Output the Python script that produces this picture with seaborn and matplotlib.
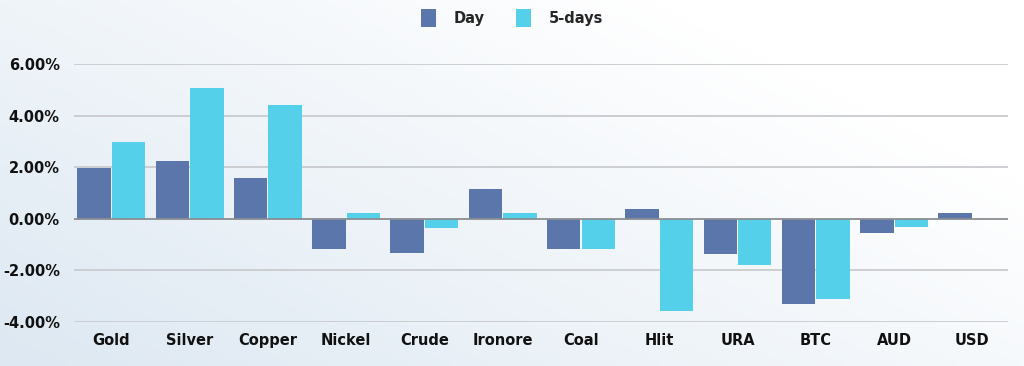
import pandas as pd
import numpy as np
import matplotlib.pyplot as plt
import seaborn as sns

categories = ["Gold", "Silver", "Copper", "Nickel", "Crude", "Ironore",
              "Coal", "Hlit", "URA", "BTC", "AUD", "USD"]
day = [1.97, 2.26, 1.60, -1.15, -1.32, 1.17, -1.15, 0.37, -1.38, -3.31, -0.54, 0.23]
five_days = [2.97, 5.08, 4.42, 0.22, -0.36, 0.22, -1.15, -3.58, -1.80, -3.10, -0.32, 0.0]
yticks = [-4, -2, 0, 2, 4, 6]

df = pd.DataFrame({"cat": categories * 2,
                   "value": day + five_days,
                   "series": ["Day"] * len(categories) + ["5-days"] * len(categories)})

sns.set_style("white")
plt.rcParams["font.family"] = ["DejaVu Sans"]

fig = plt.figure(figsize=(10.24, 3.66), dpi=100)

# soft background gradient, bluish at lower left, white at upper right
bg = fig.add_axes([0, 0, 1, 1], zorder=-10)
gx, gy = np.meshgrid(np.linspace(0, 1, 200), np.linspace(0, 1, 80))
g = np.clip(0.7 * (1 - gx) + 0.5 * gy - 0.25, 0, 1)
bg.imshow(g, cmap=sns.blend_palette(["#ffffff", "#dde8f2"], as_cmap=True),
          aspect="auto", extent=[0, 1, 0, 1], origin="upper")
bg.axis("off")

ax = fig.add_axes([0.072, 0.12, 0.912, 0.705])
ax.patch.set_alpha(0)
sns.barplot(data=df, x="cat", y="value", hue="series",
            palette={"Day": "#5a76ab", "5-days": "#55d0eb"}, saturation=1,
            width=0.88, gap=0.03, linewidth=0, ax=ax, zorder=3)

ax.set_ylim(-4, 6)
ax.set_xlim(-0.48, 11.45)
ax.set_yticks(yticks)
ax.set_yticklabels([f"{t:.2f}%" for t in yticks])
for t in yticks:
    ax.axhline(t, color="#c9cbcf" if t != 0 else "#8a8d92", lw=1.3, zorder=1 if t != 0 else 4)
for s in ax.spines.values():
    s.set_visible(False)
ax.set_xlabel("")
ax.set_ylabel("")
ax.tick_params(length=0, labelsize=10.5, colors="#111111")
ax.tick_params(axis="y", pad=10)
ax.tick_params(axis="x", pad=8)
for lab in ax.get_xticklabels() + ax.get_yticklabels():
    lab.set_fontweight("bold")

handles, labels = ax.get_legend_handles_labels()
ax.get_legend().remove()
fig.legend(handles, labels, loc="upper center", bbox_to_anchor=(0.5, 1.012), ncol=2,
           frameon=False, handlelength=1.0, handleheight=1.6, handletextpad=1.2,
           columnspacing=2.2, prop={"weight": "bold", "size": 10.5})

fig.savefig("out.png", dpi=100)
